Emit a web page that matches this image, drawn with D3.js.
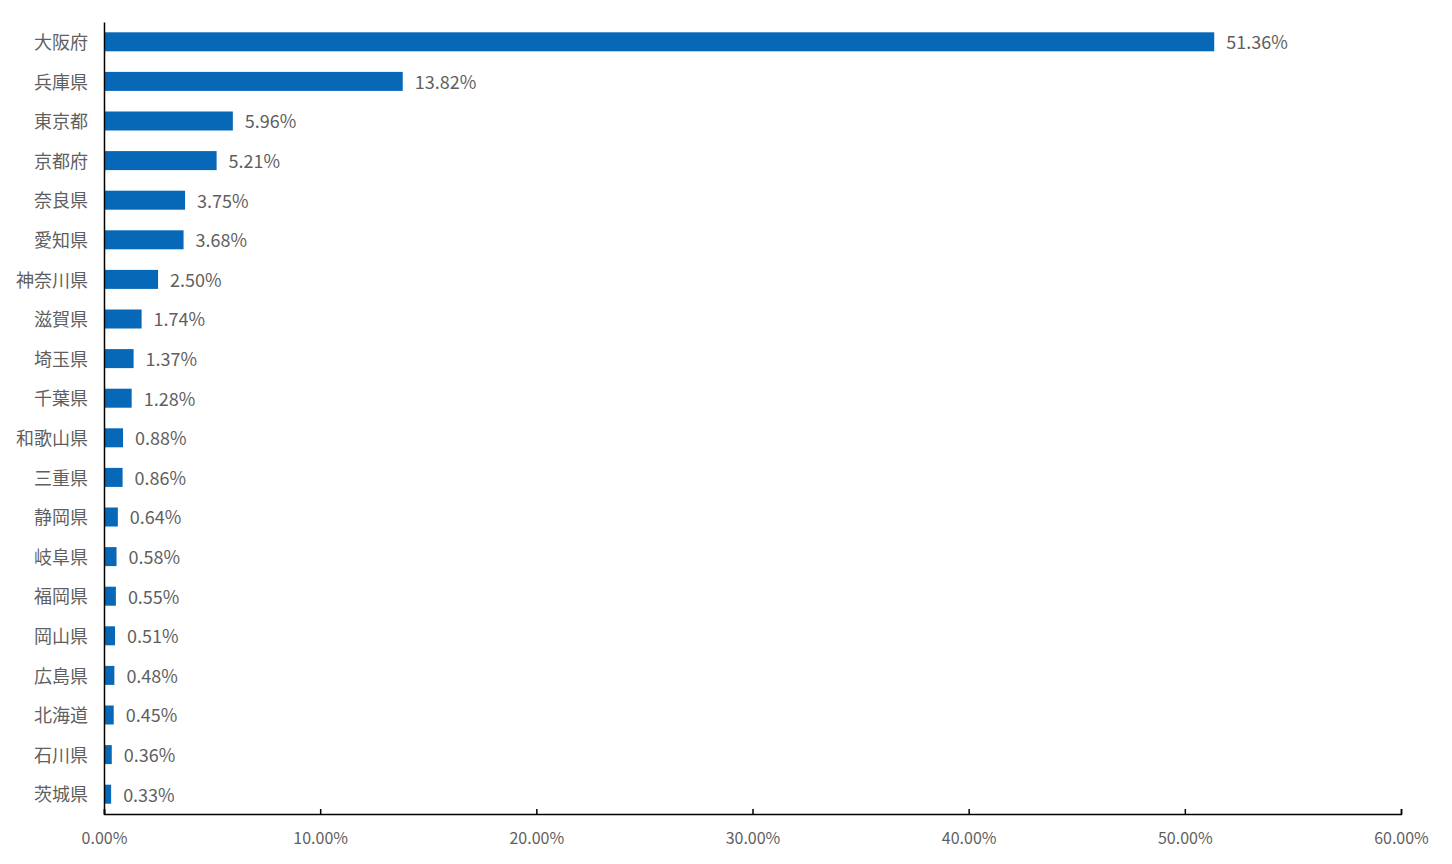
<!DOCTYPE html>
<html><head><meta charset="utf-8">
<script src="https://cdn.jsdelivr.net/npm/d3@7"></script>
<style>body{margin:0;background:#fff;} text{font-family:"Noto Sans CJK JP","Noto Sans",sans-serif;}</style>
</head><body><svg id="c" width="1452" height="864"></svg>
<script>
const categories = ["大阪府","兵庫県","東京都","京都府","奈良県","愛知県","神奈川県","滋賀県","埼玉県","千葉県","和歌山県","三重県","静岡県","岐阜県","福岡県","岡山県","広島県","北海道","石川県","茨城県"];
const values = [51.36,13.82,5.96,5.21,3.75,3.68,2.50,1.74,1.37,1.28,0.88,0.86,0.64,0.58,0.55,0.51,0.48,0.45,0.36,0.33];
const xTicks = [0,10,20,30,40,50,60];

const svg = d3.select("#c");
const x = d3.scaleLinear().domain([0,60]).range([104,1401]);
const y = d3.scaleBand().domain(categories).range([22,814]).paddingInner(0.52).paddingOuter(0.26);
const grey = "#5f5f5f";

svg.selectAll("rect.bar").data(values).join("rect").attr("class","bar")
  .attr("x", x(0)).attr("y",(d,i)=>y(categories[i]))
  .attr("width", d=>x(d)-x(0)).attr("height", y.bandwidth()).attr("fill","#0868b8");

svg.selectAll("text.val").data(values).join("text").attr("class","val")
  .attr("x", d=>x(d)+12).attr("y",(d,i)=>y(categories[i])+y.bandwidth()/2+1)
  .attr("dy","0.35em").attr("font-size",18).attr("fill",grey)
  .text(d=>d.toFixed(2)+"%");

const xa = svg.append("g").attr("transform","translate(0,814)")
  .call(d3.axisBottom(x).tickValues(xTicks).tickSizeInner(-5).tickSizeOuter(-5).tickPadding(19).tickFormat(d=>d.toFixed(2)+"%"));
xa.select(".domain").attr("stroke","#000").attr("stroke-width",1.5);
xa.selectAll(".tick line").attr("stroke","#000").attr("stroke-width",1.5);
xa.selectAll(".tick text").attr("font-size",16).attr("fill",grey).attr("font-family",'"Noto Sans CJK JP","Noto Sans",sans-serif');

const ya = svg.append("g").attr("transform","translate(104,0)")
  .call(d3.axisLeft(y).tickSize(0).tickPadding(16));
ya.select(".domain").attr("stroke","#000").attr("stroke-width",1.5);
ya.selectAll(".tick text").attr("font-size",18).attr("fill",grey).attr("dy","0.4em").attr("font-family",'"Noto Sans CJK JP","Noto Sans",sans-serif');
</script></body></html>
